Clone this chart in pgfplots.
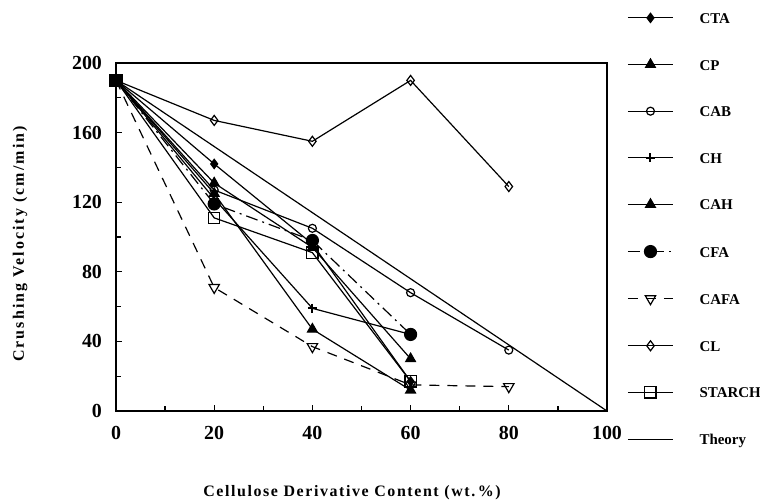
\documentclass[border=0pt]{standalone}
\usepackage{fontspec}
\setmainfont{Liberation Serif}
\usepackage{pgfplots}
\pgfplotsset{compat=1.18}
\begin{document}
\begin{tikzpicture}
\path[use as bounding box] (-58bp,-45bp) rectangle (322bp,205.5bp);
\begin{axis}[
  at={(0,0)}, anchor=south west,
  scale only axis, width=245.5bp, height=174bp,
  xmin=0, xmax=100, ymin=0, ymax=200,
  xtick={0,20,...,100}, ytick={0,40,...,200},
  minor xtick={10,30,50,70,90}, minor ytick={20,60,100,140,180},
  tick pos=left, tick align=inside,
  major tick length=3bp, minor tick length=2.5bp,
  axis line style={line width=0.8bp},
  every tick/.style={line width=0.6bp, black},
  /pgf/number format/assume math mode=true,
  ticklabel style={font=\fontsize{10}{12}\selectfont\bfseries},
  xticklabel style={yshift=-4bp},
  yticklabel style={xshift=-3.5bp},
  xlabel={Cellulose Derivative Content (wt.\,\%)},
  ylabel={Crushing Velocity (cm/min)},
  xlabel style={font=\fontsize{8}{9}\selectfont\bfseries\addfontfeature{LetterSpace=10}, at={(axis description cs:0.4807,-0.2356)}, anchor=center},
  ylabel style={font=\fontsize{8}{9}\selectfont\bfseries\addfontfeature{LetterSpace=13}, at={(axis description cs:-0.1955,0.48)}, anchor=center},
  every axis plot/.append style={line width=0.6bp, black},
  legend image code/.code={\draw[mark repeat=2,mark phase=2,#1] plot coordinates {(0bp,0bp) (11.25bp,0bp) (22.5bp,0bp)};},
  legend cell align=left,
  legend style={at={(rel axis cs:1.0407,1.1466)}, anchor=north west, draw=none, fill=none, inner sep=0pt,
    row sep=17.8bp, font=\fontsize{7.5}{9}\selectfont\bfseries,
    nodes={inner sep=0pt, inner xsep=0pt, text height=5.5bp, text depth=0pt},
    /tikz/every odd column/.append style={column sep=13bp}},
]
\addplot[mark=diamond*, mark size=2.3bp] coordinates {(0,190)(20,142)(40,96)(60,17)};
\addlegendentry{CTA}
\addplot[mark=triangle*, mark size=2.8bp] coordinates {(0,190)(20,131)(40,94)(60,30)};
\addlegendentry{CP}
\addplot[mark=o, mark size=2bp] coordinates {(0,190)(20,127)(40,105)(60,68)(80,35)};
\addlegendentry{CAB}
\addplot[mark=+, mark size=2.3bp, mark options={line width=1bp}] coordinates {(0,190)(20,122)(40,59)(60,44)};
\addlegendentry{CH}
\addplot[mark=triangle*, mark size=2.8bp] coordinates {(0,190)(20,125)(40,47)(60,12)};
\addlegendentry{CAH}
\addplot[mark=*, mark size=3bp, dash pattern=on 6bp off 2.5bp on 1bp off 2.5bp, mark options={solid}] coordinates {(0,190)(20,119)(40,98)(60,44)};
\addlegendentry{CFA}
\addplot[mark=triangle, mark size=3bp, mark options={solid, rotate=180}, dash pattern=on 5bp off 4bp] coordinates {(0,190)(20,71)(40,37)(60,15)(80,14)};
\addlegendentry{CAFA}
\addplot[mark=diamond, mark size=2.5bp] coordinates {(0,190)(20,167)(40,155)(60,190)(80,129)};
\addlegendentry{CL}
\addplot[mark=square, mark size=2.8bp] coordinates {(0,190)(20,111)(40,91)(60,17)};
\addlegendentry{STARCH}
\addplot[no marks] coordinates {(0,190)(100,0)};
\addlegendentry{Theory}
\addplot[only marks, mark=square*, mark size=3bp, forget plot] coordinates {(0,190)};
\end{axis}
\end{tikzpicture}
\end{document}
